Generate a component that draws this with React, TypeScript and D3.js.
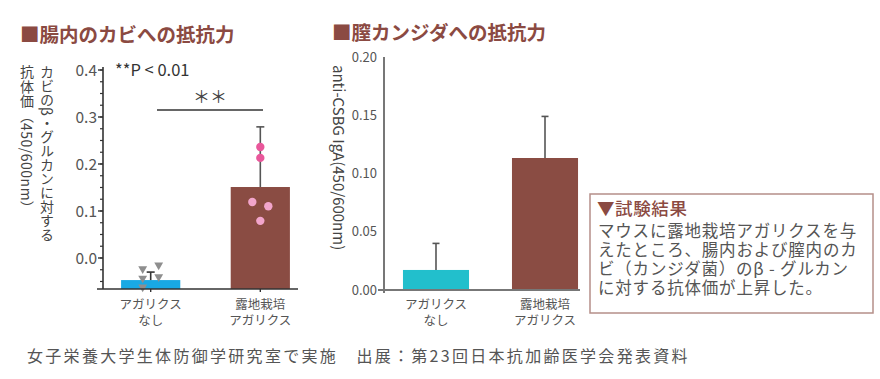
import React from "react";
import * as d3 from "d3";

// ---------- data ----------
const groupKeys = ["none", "outdoor"];
const groupLabels = [["アガリクス", "なし"], ["露地栽培", "アガリクス"]];

// left chart: gut
const gutMeans = [-0.047, 0.151];
const gutErrTop = [-0.030, 0.279];
const gutControlPoints = [-0.023, -0.015, -0.043, -0.040, -0.062];
const gutTreatedPoints = [0.236, 0.213, 0.119, 0.110, 0.079];
const gutTicks = [0.0, 0.1, 0.2, 0.3, 0.4];
const gutTickLabels = ["0.0", "0.1", "0.2", "0.3", "0.4"];

// right chart: vaginal candida
const vagMeans = [0.0172, 0.1133];
const vagErrTop = [0.040, 0.149];
const vagTicks = [0.0, 0.05, 0.1, 0.15, 0.2];
const vagTickLabels = ["0.00", "0.05", "0.10", "0.15", "0.20"];

const resultLines = [
  "マウスに露地栽培アガリクスを与",
  "えたところ、腸内および膣内のカ",
  "ビ（カンジダ菌）のβ - グルカン",
  "に対する抗体価が上昇した。",
];

// ---------- style ----------
const FONT = "'Noto Sans CJK JP', 'Noto Sans', sans-serif";
const BROWN = "#8a4c43";
const TITLE = "#8b4a42";
const CYAN_L = "#19a9e4";
const CYAN_R = "#22bfcc";
const GREY = "#555";
const controlJitter = [-8, 8, -8, 8, -8];
const treatedJitter = [0, 0, -8, 8, 0];
const treatedColors = ["#e9579b", "#e9579b", "#f2a5cb", "#f2a5cb", "#f2a5cb"];

export default function App() {
  // left scales
  const xL = d3.scaleBand().domain(groupKeys).range([103, 308]).paddingInner(0.46).paddingOuter(0.165);
  const yL = d3.scaleLinear().domain([-0.066, 0.4]).range([289, 70]);
  const minorL = d3.range(-0.05, 0.4001, 0.025);

  // right scales
  const xR = d3.scaleBand().domain(groupKeys).range([384, 597]).paddingInner(0.394).paddingOuter(0.174);
  const yR = d3.scaleLinear().domain([0, 0.2]).range([290, 57]);

  const tri = d3.symbol().type(d3.symbolTriangle).size(34)();

  const cL = (i: number) => (xL(groupKeys[i]) as number) + xL.bandwidth() / 2;
  const cR = (i: number) => (xR(groupKeys[i]) as number) + xR.bandwidth() / 2;

  return (
    <div style={{ position: "absolute", left: 0, top: 0 }}>
      <svg width={880} height={379} style={{ display: "block", fontFamily: FONT }}>
        <rect width={880} height={379} fill="#fff" />

        {/* titles */}
        <text x={20} y={42} fontSize={19.5} fontWeight="bold" fill={TITLE}>■腸内のカビへの抵抗力</text>
        <text x={332} y={40} fontSize={19.5} fontWeight="bold" fill={TITLE}>■膣カンジダへの抵抗力</text>

        {/* ===== left chart ===== */}
        <g>
          {/* y-axis title (vertical) */}
          <text x={47} y={65} fontSize={14} fill="#444" style={{ writingMode: "vertical-rl" } as any}>カビのβ・グルカンに対する</text>
          <text x={27} y={65} fontSize={14} fill="#444" letterSpacing={0.5} style={{ writingMode: "vertical-rl" } as any}>抗体価（450/600nm）</text>

          {/* bars */}
          {groupKeys.map((k, i) => (
            <rect key={k} x={xL(k)} width={xL.bandwidth()} y={yL(gutMeans[i])} height={yL(-0.066) - yL(gutMeans[i])}
              fill={i === 0 ? CYAN_L : BROWN} />
          ))}
          {/* error bars */}
          {groupKeys.map((k, i) => (
            <g key={k} stroke={i === 0 ? "#333" : "#555"} strokeWidth={1.6}>
              <line x1={cL(i)} x2={cL(i)} y1={yL(gutMeans[i])} y2={yL(gutErrTop[i])} />
              <line x1={cL(i) - 4} x2={cL(i) + 4} y1={yL(gutErrTop[i])} y2={yL(gutErrTop[i])} />
            </g>
          ))}
          {/* points */}
          {gutControlPoints.map((v, j) => (
            <path key={"c" + j} d={tri} transform={`translate(${cL(0) + controlJitter[j]},${yL(v)}) rotate(180)`} fill="#8e8e8e" />
          ))}
          {gutTreatedPoints.map((v, j) => (
            <circle key={"t" + j} cx={cL(1) + treatedJitter[j]} cy={yL(v)} r={4.2} fill={treatedColors[j]} />
          ))}

          {/* y axis */}
          <line x1={103} x2={103} y1={yL(0.4) - 3} y2={yL(-0.066)} stroke="#333" strokeWidth={1.6} />
          {minorL.map((t, j) => (
            <line key={j} x1={100} x2={103} y1={yL(t)} y2={yL(t)} stroke="#333" strokeWidth={1.2} />
          ))}
          {gutTicks.map((t, j) => (
            <g key={j}>
              <line x1={98} x2={103} y1={yL(t)} y2={yL(t)} stroke="#333" strokeWidth={1.4} />
              <text x={97} y={yL(t)} dy="0.36em" textAnchor="end" fontSize={15.5} fill={GREY}>{gutTickLabels[j]}</text>
            </g>
          ))}
          {/* x axis */}
          <line x1={97} x2={298} y1={yL(-0.066)} y2={yL(-0.066)} stroke="#333" strokeWidth={1.6} />
          {groupKeys.map((k, i) => (
            <g key={k}>
              <line x1={cL(i)} x2={cL(i)} y1={yL(-0.066)} y2={yL(-0.066) + 3} stroke="#333" strokeWidth={1.4} />
              {groupLabels[i].map((s, li) => (
                <text key={li} x={cL(i)} y={304 + li * 16} dy="0.36em" textAnchor="middle" fontSize={12.5} fill={GREY}>{s}</text>
              ))}
            </g>
          ))}

          {/* significance */}
          <text x={115} y={76} fontSize={16.5} fill="#333">**P &lt; 0.01</text>
          <line x1={157} x2={263} y1={110} y2={110} stroke="#333" strokeWidth={1.5} />
          <text x={210} y={97} dy="0.36em" textAnchor="middle" fontSize={17} fill="#444">＊＊</text>
        </g>

        {/* ===== right chart ===== */}
        <g>
          <text transform={`translate(333,65) rotate(90)`} fontSize={15} fill="#444">anti-CSBG IgA(450/600nm)</text>

          {groupKeys.map((k, i) => (
            <rect key={k} x={xR(k)} width={xR.bandwidth()} y={yR(vagMeans[i])} height={yR(0) - yR(vagMeans[i])}
              fill={i === 0 ? CYAN_R : BROWN} />
          ))}
          {groupKeys.map((k, i) => (
            <g key={k} stroke="#555" strokeWidth={1.6}>
              <line x1={cR(i)} x2={cR(i)} y1={yR(vagMeans[i])} y2={yR(vagErrTop[i])} />
              <line x1={cR(i) - 3.5} x2={cR(i) + 3.5} y1={yR(vagErrTop[i])} y2={yR(vagErrTop[i])} />
            </g>
          ))}

          <line x1={384} x2={384} y1={yR(0.2)} y2={yR(0) + 3} stroke="#777" strokeWidth={2} />
          <line x1={378} x2={580} y1={yR(0)} y2={yR(0)} stroke="#777" strokeWidth={2} />
          {vagTicks.map((t, j) => (
            <text key={j} x={377} y={yR(t)} dy="0.36em" textAnchor="end" fontSize={13} fill={GREY}>{vagTickLabels[j]}</text>
          ))}
          {groupKeys.map((k, i) => (
            <g key={k}>
              {groupLabels[i].map((s, li) => (
                <text key={li} x={cR(i)} y={304 + li * 16} dy="0.36em" textAnchor="middle" fontSize={12.5} fill={GREY}>{s}</text>
              ))}
            </g>
          ))}
        </g>

        {/* result box */}
        <rect x={590} y={194} width={283} height={119} fill="#fff" stroke="#b58f89" strokeWidth={1.5} />
        <text x={597} y={209} dy="0.36em" fontSize={17.5} letterSpacing={0.6} fill={TITLE} fontWeight={500}>▼試験結果</text>
        {resultLines.map((s, i) => (
          <text key={i} x={598} y={231 + i * 19} dy="0.36em" fontSize={16.5} letterSpacing={0.8} fill={GREY}>{s}</text>
        ))}

        {/* footer */}
        <text x={27} y={356} dy="0.36em" fontSize={16} letterSpacing={2.3} fill={GREY}>女子栄養大学生体防御学研究室で実施　出展：第23回日本抗加齢医学会発表資料</text>
      </svg>
    </div>
  );
}
